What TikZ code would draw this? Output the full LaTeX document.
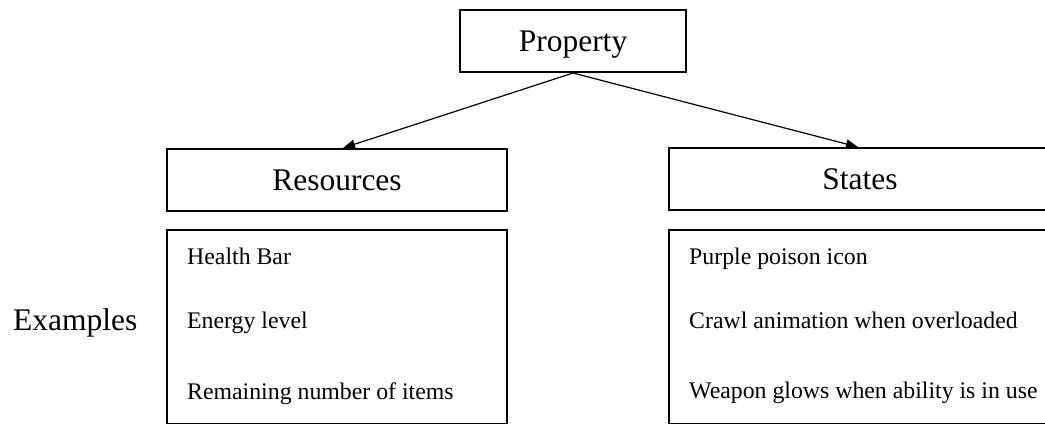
\documentclass[tikz,border=0pt]{standalone}
\usepackage{fontspec}
\setmainfont{Liberation Serif}
\usetikzlibrary{arrows.meta}
\begin{document}
\begin{tikzpicture}[x=1bp,y=-1bp,
  head/.style={draw, line width=2bp, rectangle, inner sep=0pt,
    text height=21bp, text depth=0bp,
    font=\fontsize{31.5bp}{36bp}\selectfont},
  listbox/.style={draw, line width=1.3bp, rectangle, inner sep=0pt},
  item/.style={anchor=base west, inner sep=0pt,
    font=\fontsize{23.8bp}{28bp}\selectfont},
  biglabel/.style={anchor=base west, inner sep=0pt,
    font=\fontsize{31.5bp}{36bp}\selectfont},
  link/.style={line width=1.2bp, -{Triangle[length=12bp,width=9bp]}}]
\useasboundingbox (0,0) rectangle (1045,425);

% category boxes
\node[head, minimum width=226bp, minimum height=62bp] (prop) at (573,41) {Property};
\node[head, minimum width=340bp, minimum height=62bp] (res) at (337,180) {Resources};
\node[head, minimum width=382bp, minimum height=62bp] (sta) at (860,179) {States};

% example lists
\node[listbox, minimum width=340bp, minimum height=193.5bp] (reslist) at (337,326.75) {};
\node[listbox, minimum width=382bp, minimum height=193.5bp] (stalist) at (860,326.75) {};

\node[biglabel] (ex) at (13,330) {Examples};

\node[item] (health) at (187,264) {Health Bar};
\node[item] (energy) at (187,328) {Energy level};
\node[item] (remain) at (187,399) {Remaining number of items};
\node[item] (poison) at (689,264) {Purple poison icon};
\node[item] (crawl) at (689,328) {Crawl animation when overloaded};
\node[item] (weapon) at (689,398) {Weapon glows when ability is in use};

% links
\draw[link] (prop.south) -- ([xshift=6bp]res.north);
\draw[link] (prop.south) -- ([xshift=-2bp]sta.north);
\end{tikzpicture}
\end{document}
